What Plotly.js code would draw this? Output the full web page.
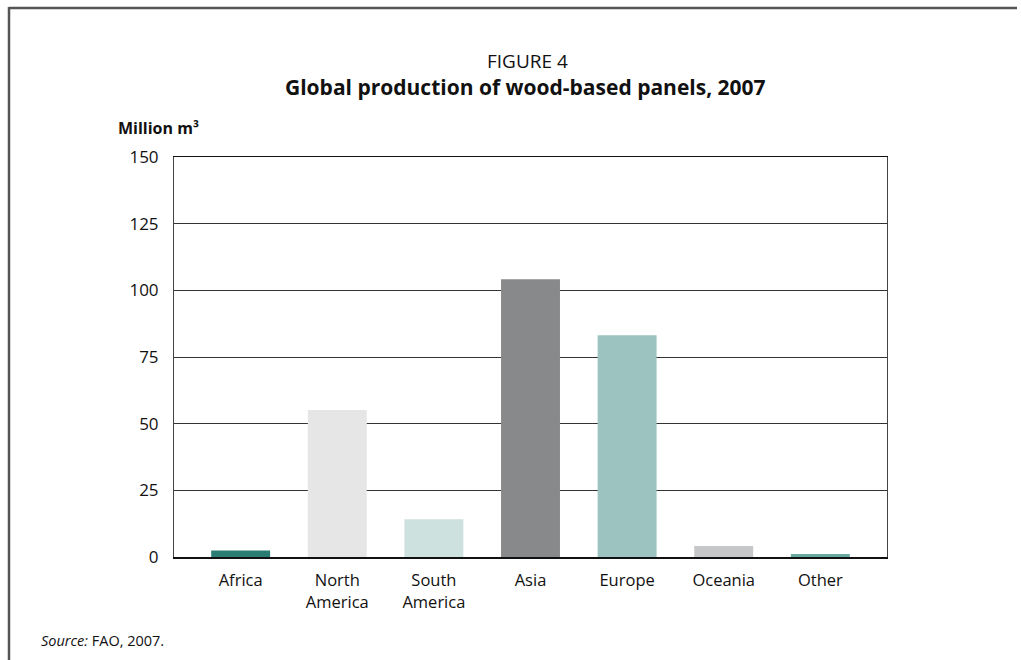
<!DOCTYPE html>
<html>
<head>
<meta charset="utf-8">
<script src="https://cdn.plot.ly/plotly-3.0.1.min.js"></script>
<style>
html,body{margin:0;padding:0;background:#fff;}
#chart{width:1021px;height:660px;}
</style>
</head>
<body>
<div id="chart"></div>
<script>
const categories = ["Africa", "North<br>America", "South<br>America", "Asia", "Europe", "Oceania", "Other"];
const values = [2.4, 55.1, 14.2, 104.2, 83.2, 4.1, 1.1];
const barColors = ["#2a7d72", "#e6e6e6", "#cde1de", "#88898b", "#9cc3bf", "#c6c7c8", "#68a9a0"];
const yTicks = [0, 25, 50, 75, 100, 125, 150];

const FONT = "Open Sans, Noto Sans, DejaVu Sans, sans-serif";

const trace = {
  type: "bar",
  x: categories,
  y: values,
  marker: {color: barColors, line: {width: 0}},
  width: 0.61,
  hoverinfo: "x+y"
};

const layout = {
  width: 1021,
  height: 660,
  margin: {l: 174, r: 134, t: 157, b: 103, pad: 0},
  paper_bgcolor: "#ffffff",
  plot_bgcolor: "#ffffff",
  showlegend: false,
  font: {family: FONT, color: "#111", size: 16},
  xaxis: {
    type: "category",
    range: [-0.69, 6.69],
    showgrid: false,
    showline: true,
    linecolor: "#111",
    linewidth: 1.5,
    mirror: true,
    ticks: "",
    ticklabelstandoff: 8,
    tickfont: {family: FONT, size: 16.5, color: "#111"},
    zeroline: false,
    fixedrange: true
  },
  yaxis: {
    range: [0, 150],
    tickvals: yTicks,
    ticktext: yTicks.map(String),
    showgrid: true,
    gridcolor: "#333",
    gridwidth: 1,
    showline: true,
    linecolor: "#444",
    linewidth: 1,
    mirror: true,
    ticks: "",
    ticklabelstandoff: 11,
    tickfont: {family: FONT, size: 17, color: "#111"},
    zeroline: false,
    fixedrange: true
  },
  annotations: [
    {text: "FIGURE 4", xref: "paper", yref: "paper", x: (527 - 174) / 713, y: (557 - 61) / 400,
     xanchor: "center", yanchor: "middle", showarrow: false,
     font: {family: FONT, size: 19, color: "#111"}},
    {text: "<b>Global production of wood-based panels, 2007</b>", xref: "paper", yref: "paper",
     x: (525 - 174) / 713, y: (557 - 87) / 400, xanchor: "center", yanchor: "middle", showarrow: false,
     font: {family: FONT, size: 21, color: "#111"}},
    {text: "<b>Million m³</b>", xref: "paper", yref: "paper", x: (116 - 174) / 713, y: (557 - 128) / 400,
     xanchor: "left", yanchor: "middle", showarrow: false,
     font: {family: FONT, size: 16, color: "#111"}},
    {text: "<i>Source:</i> FAO, 2007.", xref: "paper", yref: "paper", x: (39 - 174) / 713, y: (557 - 640) / 400,
     xanchor: "left", yanchor: "middle", showarrow: false,
     font: {family: FONT, size: 14.5, color: "#111"}}
  ],
  shapes: [
    {type: "line", xref: "paper", yref: "paper",
     x0: (9 - 174) / 713, x1: (1017 - 174) / 713, y0: (557 - 8) / 400, y1: (557 - 8) / 400,
     line: {color: "#555", width: 2.5}},
    {type: "line", xref: "paper", yref: "paper",
     x0: (9 - 174) / 713, x1: (9 - 174) / 713, y0: (557 - 7) / 400, y1: (557 - 662) / 400,
     line: {color: "#555", width: 2.5}}
  ]
};

Plotly.newPlot("chart", [trace], layout, {displayModeBar: false, staticPlot: true});
</script>
</body>
</html>
